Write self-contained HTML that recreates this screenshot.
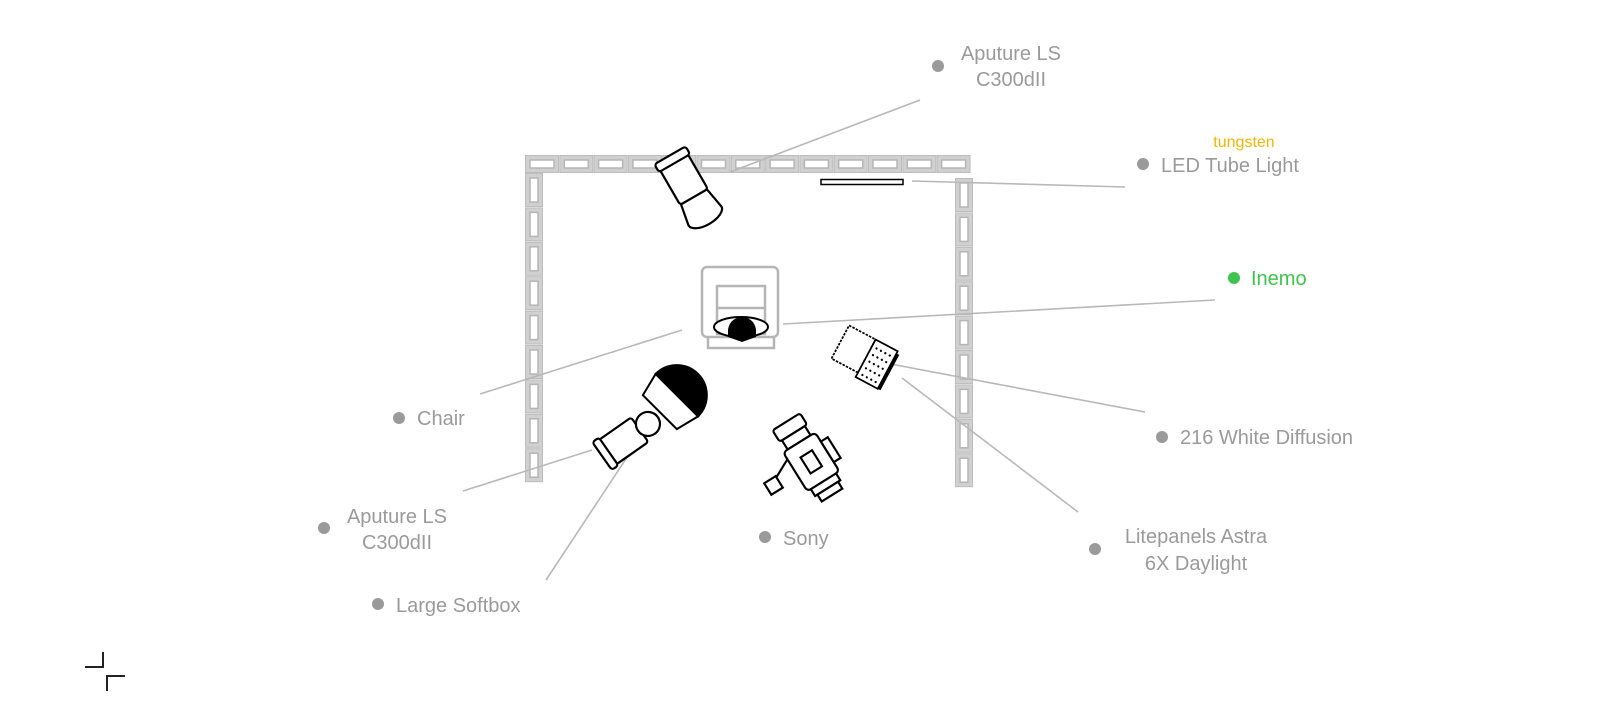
<!DOCTYPE html>
<html><head><style>
body{margin:0;background:#fff;}
svg{display:block;}
text{font-family:"Liberation Sans",sans-serif;font-size:20px;fill:#9a9a9a;}
</style></head><body>
<svg width="1600" height="720" viewBox="0 0 1600 720">
<defs>
<g id="hs"><rect x="0.5" y="0.5" width="33" height="17" fill="#d0d0d0" stroke="#bdbdbd"/><rect x="5" y="5" width="24" height="8" fill="#fff" stroke="#b5b5b5" stroke-width="1.5"/></g>
<g id="vs"><rect x="0.5" y="0.5" width="17" height="33" fill="#d0d0d0" stroke="#bdbdbd"/><rect x="5" y="5" width="8" height="24" fill="#fff" stroke="#b5b5b5" stroke-width="1.5"/></g>
</defs>
<g>
<use href="#hs" x="525" y="155"/><use href="#hs" x="559.3" y="155"/><use href="#hs" x="593.6" y="155"/><use href="#hs" x="627.9" y="155"/><use href="#hs" x="662.2" y="155"/><use href="#hs" x="696.5" y="155"/><use href="#hs" x="730.8" y="155"/><use href="#hs" x="765.1" y="155"/><use href="#hs" x="799.4" y="155"/><use href="#hs" x="833.7" y="155"/><use href="#hs" x="868" y="155"/><use href="#hs" x="902.3" y="155"/><use href="#hs" x="936.6" y="155"/>
<use href="#vs" x="525" y="173"/><use href="#vs" x="525" y="207.4"/><use href="#vs" x="525" y="241.8"/><use href="#vs" x="525" y="276.2"/><use href="#vs" x="525" y="310.6"/><use href="#vs" x="525" y="345"/><use href="#vs" x="525" y="379.4"/><use href="#vs" x="525" y="413.8"/><use href="#vs" x="525" y="448.2"/>
<use href="#vs" x="955" y="178"/><use href="#vs" x="955" y="212.4"/><use href="#vs" x="955" y="246.8"/><use href="#vs" x="955" y="281.2"/><use href="#vs" x="955" y="315.6"/><use href="#vs" x="955" y="350"/><use href="#vs" x="955" y="384.4"/><use href="#vs" x="955" y="418.8"/><use href="#vs" x="955" y="453.2"/>
</g>
<g stroke="#b8b8b8" stroke-width="1.6" fill="none">
<line x1="920" y1="100" x2="730" y2="172"/>
<line x1="912" y1="181" x2="1125" y2="187"/>
<line x1="783" y1="324" x2="1215" y2="300"/>
<line x1="682" y1="330" x2="480" y2="394"/>
<line x1="592" y1="450" x2="463" y2="491"/>
<line x1="645" y1="430" x2="546" y2="580"/>
<line x1="880" y1="362" x2="1145" y2="412"/>
<line x1="902" y1="378" x2="1078" y2="512"/>
</g>
<g fill="none" stroke="#b5b5b5" stroke-width="2.5">
<path d="M708,336 L708,348 L774,348 L774,336"/>
<rect x="702" y="267" width="76" height="70" rx="5" fill="#fff"/>
<rect x="717" y="286" width="48" height="48" fill="#fff"/>
<line x1="717" y1="308" x2="765" y2="308"/>
</g>
<ellipse cx="741" cy="327" rx="27" ry="10" fill="#fff" stroke="#000" stroke-width="2"/>
<path d="M728,332 A14,14 0 0 1 756,330 L756,337 L742,342 L728,337 Z" fill="#000"/>
<rect x="821" y="179.5" width="82" height="5" fill="#fff" stroke="#000" stroke-width="1.5"/>
<g transform="translate(690,190) rotate(-30)" stroke="#000" stroke-width="2.2" fill="#fff">
<rect x="-16" y="-34" width="32" height="42" rx="3"/>
<rect x="-18" y="-40" width="36" height="9" rx="3"/>
<path d="M-15,8 L15,8 L19,30 A19,9 0 0 1 -19,30 Z"/>
</g>
<g transform="translate(625,440) rotate(55)" stroke="#000" stroke-width="2.2" fill="#fff">
<rect x="-15" y="-18" width="30" height="40" rx="3"/>
<rect x="-17" y="20" width="34" height="8" rx="3"/>
<circle cx="0" cy="-28" r="12"/>
</g>
<g transform="translate(674,398) rotate(45)" stroke="#000" stroke-width="2">
<path d="M-24,20 L-30,-4 L30,-4 L24,20 Z" fill="#fff"/>
<path d="M-30,-4 A30,30 0 0 1 30,-4 Z" fill="#000"/>
</g>
<g transform="translate(864,356) rotate(28) scale(1.25)" stroke="#000" stroke-width="1.4" fill="#fff">
<rect x="-22" y="-16" width="24" height="30" stroke-dasharray="2,1"/>
<rect x="2" y="-16" width="20" height="34" fill="#fff"/>
<g fill="#000" stroke="none">
<circle cx="6" cy="-10" r="0.9"/><circle cx="10" cy="-10" r="0.9"/><circle cx="14" cy="-10" r="0.9"/><circle cx="18" cy="-10" r="0.9"/>
<circle cx="6" cy="-4" r="0.9"/><circle cx="10" cy="-4" r="0.9"/><circle cx="14" cy="-4" r="0.9"/><circle cx="18" cy="-4" r="0.9"/>
<circle cx="6" cy="2" r="0.9"/><circle cx="10" cy="2" r="0.9"/><circle cx="14" cy="2" r="0.9"/><circle cx="18" cy="2" r="0.9"/>
<circle cx="6" cy="8" r="0.9"/><circle cx="10" cy="8" r="0.9"/><circle cx="14" cy="8" r="0.9"/><circle cx="18" cy="8" r="0.9"/>
<circle cx="6" cy="14" r="0.9"/><circle cx="10" cy="14" r="0.9"/><circle cx="14" cy="14" r="0.9"/><circle cx="18" cy="14" r="0.9"/>
</g>
<line x1="23" y1="-14" x2="23" y2="18" stroke-width="3"/>
</g>
<g transform="translate(812,463) rotate(-32) scale(1.35)" stroke="#000" stroke-width="1.6" fill="#fff">
<rect x="-12" y="-36" width="24" height="10" rx="2"/>
<rect x="-10" y="-26" width="20" height="8"/>
<rect x="-14" y="-18" width="28" height="34" rx="3"/>
<rect x="14" y="-10" width="6" height="18"/>
<rect x="-5" y="-8" width="10" height="14"/>
<rect x="-11" y="16" width="22" height="6"/>
<rect x="-9" y="22" width="18" height="6"/>
<line x1="-14" y1="-12" x2="-30" y2="-4"/>
<rect x="-38" y="-6" width="10" height="10"/>
</g>
<g fill="#9a9a9a">
<circle cx="938" cy="66" r="6"/><circle cx="1143" cy="164" r="6"/><circle cx="399" cy="418" r="6"/>
<circle cx="1162" cy="437" r="6"/><circle cx="324" cy="528" r="6"/><circle cx="765" cy="537" r="6"/>
<circle cx="1095" cy="549" r="6"/><circle cx="378" cy="604" r="6"/>
</g>
<circle cx="1234" cy="278" r="6" fill="#3ec44e"/>
<text x="1011" y="60" text-anchor="middle">Aputure LS</text>
<text x="1011" y="86" text-anchor="middle">C300dII</text>
<text x="1244" y="147" text-anchor="middle" style="font-size:16px;fill:#f0b400">tungsten</text>
<text x="1161" y="172">LED Tube Light</text>
<text x="1251" y="285" style="fill:#3ec44e">Inemo</text>
<text x="417" y="425">Chair</text>
<text x="1180" y="444">216 White Diffusion</text>
<text x="397" y="523" text-anchor="middle">Aputure LS</text>
<text x="397" y="549" text-anchor="middle">C300dII</text>
<text x="783" y="545">Sony</text>
<text x="1196" y="543" text-anchor="middle">Litepanels Astra</text>
<text x="1196" y="570" text-anchor="middle">6X Daylight</text>
<text x="396" y="612">Large Softbox</text>
<g stroke="#222" stroke-width="2" fill="none">
<path d="M85,667 L103,667 L103,652"/>
<path d="M107,691 L107,676 L125,676"/>
</g>
</svg>
</body></html>
